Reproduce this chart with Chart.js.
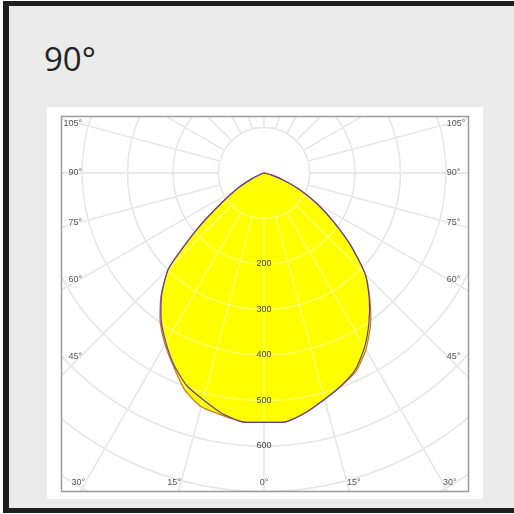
<!DOCTYPE html>
<html><head><meta charset="utf-8">
<script src="https://cdn.jsdelivr.net/npm/chart.js@4.4.1/dist/chart.umd.min.js"></script>
<style>
html,body{margin:0;padding:0;width:514px;height:514px;overflow:hidden;background:#fff;}
#frame{position:absolute;left:3px;top:1px;width:530px;height:512px;box-sizing:border-box;border-left:6px solid #1e1e1e;border-top:5px solid #1e1e1e;border-bottom:5px solid #1e1e1e;background:#ebebeb;}
#panel{position:absolute;left:47px;top:107px;width:436px;height:392px;background:#fff;}
#title{position:absolute;left:44px;top:42px;font-family:"Open Sans",sans-serif;font-size:33px;line-height:33px;color:#222;}
canvas{position:absolute;left:0;top:0;}
</style></head><body>
<div id="frame"></div><div id="panel"></div><div id="title">90°</div>
<canvas id="c" width="514" height="514"></canvas>
<script>
// gamma angles (0° = straight down, negative = left half)
const angles = [-90,-85,-80,-75,-70,-65,-60,-55,-50,-45,-40,-35,-30,-25,-20,-15,-10,-5,0,5,10,15,20,25,30,35,40,45,50,55,60,65,70,75,80,85,90];
// C0-C180 plane (orange)
const planeC0 = [0,0,0,2,8,28,65,113,192,296,352,398,435,470,508,532,540,549,548,549,534,515,498,480,448,408,362,315,250,187,134,86,45,18,6,1,0];
// C90-C270 plane (purple)
const planeC90 = [0,0,0,2,8,28,65,113,192,296,350,394,431,467,497,516,536,549,548,549,534,515,497,476,442,402,360,315,250,187,134,86,45,18,6,1,0];
const ringValues = [100,200,300,400,500,600,700,800,900,1000];
const ringLabels = [200,300,400,500,600];
const sideAngles = [105,90,75,60,45];
const bottomAngles = [-30,-15,0,15,30];

function toXY(vals){
  return angles.map((g,i)=>({x: vals[i]*Math.sin(g*Math.PI/180), y: -vals[i]*Math.cos(g*Math.PI/180)}));
}

const K = 0.455; // px per cd
const PAD = {left:61, top:116, right:45, bottom:22};
const CX = 264, CY = 173;
const xMin = -(CX-PAD.left)/K, xMax = (514-PAD.right-CX)/K;
const yMax = (CY-PAD.top)/K, yMin = -(514-PAD.bottom-CY)/K;

function drawGrid(chart, color, width){
  const ctx=chart.ctx, a=chart.chartArea, xs=chart.scales.x, ys=chart.scales.y;
  const cx=xs.getPixelForValue(0), cy=ys.getPixelForValue(0);
  const k=(xs.getPixelForValue(100)-cx)/100;
  ctx.save();
  ctx.beginPath(); ctx.rect(a.left,a.top,a.right-a.left,a.bottom-a.top); ctx.clip();
  ctx.strokeStyle=color; ctx.lineWidth=width;
  ringValues.forEach(r=>{ctx.beginPath(); ctx.arc(cx,cy,r*k,0,Math.PI*2); ctx.stroke();});
  for(let g=0; g<360; g+=15){
    const t=g*Math.PI/180, s=Math.sin(t), c=Math.cos(t);
    ctx.beginPath(); ctx.moveTo(cx+s*100*k, cy+c*100*k); ctx.lineTo(cx+s*1500*k, cy+c*1500*k); ctx.stroke();
  }
  ctx.restore();
}

const gridPlugin = {
  id:'polarGrid',
  beforeDraw(chart){ drawGrid(chart,'#d4d4d4',1.3); },
  beforeDatasetsDraw(chart){ drawGrid(chart,'rgba(255,255,255,0.42)',1.3); },
  afterDatasetsDraw(chart){
    const ctx=chart.ctx, a=chart.chartArea, xs=chart.scales.x, ys=chart.scales.y;
    const cx=xs.getPixelForValue(0), cy=ys.getPixelForValue(0);
    const k=(xs.getPixelForValue(100)-cx)/100;
    ctx.save();
    ctx.font='9px "Liberation Sans", Arial, sans-serif';
    ctx.fillStyle='#444'; ctx.textAlign='center'; ctx.textBaseline='middle';
    ringLabels.forEach(r=>{ ctx.fillText(String(r), cx, ys.getPixelForValue(-r)); });
    ctx.fillStyle='#555';
    const W=404*k, D=681*k;
    sideAngles.forEach(g=>{
      const t=g*Math.PI/180;
      const y=cy + W*Math.cos(t)/Math.sin(t);
      ctx.textAlign='right'; ctx.fillText(g+'°', cx-W+2, y);
      ctx.textAlign='left'; ctx.fillText(g+'°', cx+W-1, y);
    });
    bottomAngles.forEach(g=>{
      const t=g*Math.PI/180;
      const x=cx + D*Math.tan(t);
      ctx.textAlign = g<0 ? 'right' : (g>0 ? 'left' : 'center');
      ctx.fillText(Math.abs(g)+'°', x, cy+D);
    });
    ctx.strokeStyle='#9a9a9a'; ctx.lineWidth=1.5;
    ctx.strokeRect(a.left+0.5,a.top+0.5,a.right-a.left-1,a.bottom-a.top-1);
    ctx.restore();
  }
};

new Chart(document.getElementById('c'),{
  type:'scatter',
  data:{datasets:[
    {label:'C90-C270', data:toXY(planeC90), showLine:true, borderColor:'#62409c', borderWidth:1.2, backgroundColor:'#ffff00', fill:'shape', pointRadius:0, tension:0.2},
    {label:'C0-C180', data:toXY(planeC0), showLine:true, borderColor:'#c8782a', borderWidth:1.2, backgroundColor:'#ffff00', fill:'shape', pointRadius:0, tension:0.2}
  ]},
  options:{
    responsive:false, animation:false, devicePixelRatio:1,
    layout:{padding:PAD},
    scales:{
      x:{type:'linear', min:xMin, max:xMax, display:false},
      y:{type:'linear', min:yMin, max:yMax, display:false}
    },
    plugins:{legend:{display:false}, tooltip:{enabled:false}, filler:{drawTime:'beforeDatasetsDraw'}}
  },
  plugins:[gridPlugin]
});
</script>
</body></html>
